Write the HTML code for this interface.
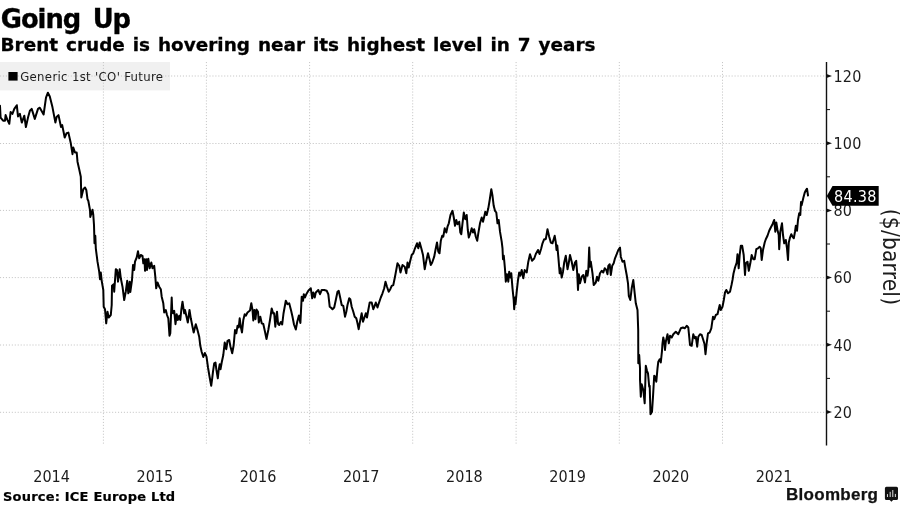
<!DOCTYPE html>
<html lang="en"><head><meta charset="utf-8"><title>Going Up</title>
<style>
html,body{margin:0;padding:0;background:#fff}
body{width:900px;height:506px;overflow:hidden;position:relative;font-family:"DejaVu Sans","Liberation Sans",sans-serif;color:#111}
svg{position:absolute;left:0;top:0;display:block}
.t{font-family:"DejaVu Sans","Liberation Sans",sans-serif;font-weight:bold;fill:#000}
.ax{font-family:"DejaVu Sans Condensed","DejaVu Sans","Liberation Sans",sans-serif;font-size:16px;letter-spacing:0.3px;fill:#1c1c1c}
.lg{font-family:"DejaVu Sans Condensed","DejaVu Sans","Liberation Sans",sans-serif;font-size:13px;letter-spacing:0.33px;fill:#1c1c1c}
.grid{stroke:#c6c6c6;stroke-width:1;stroke-dasharray:1.1 1.85;fill:none}
</style></head><body>
<svg width="900" height="506" viewBox="0 0 900 506">
<rect x="0" y="0" width="900" height="506" fill="#fff"/>
<text class="t" x="0.8" y="27.5" font-size="25.8" letter-spacing="-1.05" word-spacing="4.6" stroke="#000" stroke-width="0.35">Going Up</text>
<text class="t" x="0.5" y="51" font-size="18.4" letter-spacing="0.04" word-spacing="1.4" stroke="#000" stroke-width="0.3">Brent crude is hovering near its highest level in 7 years</text>
<rect x="0" y="62" width="170" height="28.4" fill="#f0f0f0"/>
<line class="grid" x1="103.4" y1="62" x2="103.4" y2="445"/>
<line class="grid" x1="206.4" y1="62" x2="206.4" y2="445"/>
<line class="grid" x1="309.6" y1="62" x2="309.6" y2="445"/>
<line class="grid" x1="412.7" y1="62" x2="412.7" y2="445"/>
<line class="grid" x1="516.1" y1="62" x2="516.1" y2="445"/>
<line class="grid" x1="619.3" y1="62" x2="619.3" y2="445"/>
<line class="grid" x1="722.5" y1="62" x2="722.5" y2="445"/>
<line class="grid" x1="0" y1="76.0" x2="826.5" y2="76.0"/>
<line class="grid" x1="0" y1="143.5" x2="826.5" y2="143.5"/>
<line class="grid" x1="0" y1="210.4" x2="826.5" y2="210.4"/>
<line class="grid" x1="0" y1="277.6" x2="826.5" y2="277.6"/>
<line class="grid" x1="0" y1="345.0" x2="826.5" y2="345.0"/>
<line class="grid" x1="0" y1="412.3" x2="826.5" y2="412.3"/>
<rect x="8.4" y="72" width="9.2" height="8.6" fill="#000"/>
<text class="lg" x="20.2" y="80.9">Generic 1st 'CO' Future</text>
<line x1="826.5" y1="62" x2="826.5" y2="445.5" stroke="#111" stroke-width="1.4"/>
<path d="M826.5,74.0 L832.0,76.0 L826.5,78.0 Z" fill="#111"/>
<text class="ax" x="833.4" y="81.8">120</text>
<path d="M826.5,141.2 L832.0,143.2 L826.5,145.2 Z" fill="#111"/>
<text class="ax" x="833.4" y="149.0">100</text>
<path d="M826.5,208.4 L832.0,210.4 L826.5,212.4 Z" fill="#111"/>
<text class="ax" x="833.4" y="216.2">80</text>
<path d="M826.5,275.6 L832.0,277.6 L826.5,279.6 Z" fill="#111"/>
<text class="ax" x="833.4" y="283.4">60</text>
<path d="M826.5,342.8 L832.0,344.8 L826.5,346.8 Z" fill="#111"/>
<text class="ax" x="833.4" y="350.6">40</text>
<path d="M826.5,410.0 L832.0,412.0 L826.5,414.0 Z" fill="#111"/>
<text class="ax" x="833.4" y="417.8">20</text>
<line x1="826.5" y1="109.6" x2="830.0" y2="109.6" stroke="#111" stroke-width="1"/>
<line x1="826.5" y1="176.8" x2="830.0" y2="176.8" stroke="#111" stroke-width="1"/>
<line x1="826.5" y1="244.0" x2="830.0" y2="244.0" stroke="#111" stroke-width="1"/>
<line x1="826.5" y1="311.2" x2="830.0" y2="311.2" stroke="#111" stroke-width="1"/>
<line x1="826.5" y1="378.4" x2="830.0" y2="378.4" stroke="#111" stroke-width="1"/>
<text class="ax" x="51.6" y="482" text-anchor="middle" style="letter-spacing:0">2014</text>
<text class="ax" x="154.8" y="482" text-anchor="middle" style="letter-spacing:0">2015</text>
<text class="ax" x="258.0" y="482" text-anchor="middle" style="letter-spacing:0">2016</text>
<text class="ax" x="361.2" y="482" text-anchor="middle" style="letter-spacing:0">2017</text>
<text class="ax" x="464.4" y="482" text-anchor="middle" style="letter-spacing:0">2018</text>
<text class="ax" x="567.6" y="482" text-anchor="middle" style="letter-spacing:0">2019</text>
<text class="ax" x="670.8" y="482" text-anchor="middle" style="letter-spacing:0">2020</text>
<text class="ax" x="774.0" y="482" text-anchor="middle" style="letter-spacing:0">2021</text>
<path d="M0.0,105.8 L0.6,117.6 L3.1,120.7 L5.0,120.7 L5.6,115.1 L7.5,120.1 L9.3,123.8 L10.6,112.0 L12.4,113.9 L14.3,108.9 L16.8,105.2 L18.0,116.4 L19.9,113.9 L21.8,122.6 L24.3,115.7 L25.9,127.0 L28.0,117.6 L29.9,110.8 L31.7,108.9 L34.8,118.9 L38.0,108.9 L39.8,107.7 L43.6,114.5 L46.0,97.7 L47.9,92.7 L49.8,96.5 L52.3,106.4 L55.4,122.6 L56.6,117.0 L58.5,115.1 L61.0,127.0 L62.2,125.1 L64.7,137.5 L66.6,133.2 L68.4,132.6 L70.8,143.3 L72.5,154.2 L73.3,147.5 L75.0,152.5 L76.7,152.5 L77.5,161.7 L79.2,169.2 L80.8,176.7 L81.3,197.5 L83.3,189.2 L85.0,187.5 L86.3,190.0 L87.5,199.2 L88.3,200.8 L90.0,210.0 L90.3,217.0 L92.5,209.7 L93.3,215.0 L94.0,225.0 L94.5,243.3 L95.3,235.8 L95.8,248.3 L97.5,261.7 L99.2,271.7 L100.0,279.2 L100.8,272.5 L101.7,280.8 L103.3,290.0 L103.7,306.7 L105.0,309.2 L106.2,323.3 L107.5,311.7 L108.7,317.5 L110.8,315.0 L111.7,305.0 L112.0,285.8 L113.7,284.2 L114.2,291.7 L115.8,269.2 L117.0,270.0 L118.0,281.7 L119.7,269.2 L120.8,278.3 L122.5,286.7 L124.2,300.0 L125.8,291.5 L127.2,280.8 L128.3,293.3 L129.7,281.7 L130.3,292.0 L132.0,280.0 L133.0,265.0 L134.2,270.0 L135.0,261.7 L136.7,257.5 L138.0,251.3 L139.2,258.3 L140.8,255.0 L142.5,255.8 L143.3,263.3 L144.5,259.2 L145.0,270.8 L146.3,259.2 L147.0,270.0 L148.3,258.7 L149.7,268.3 L151.3,262.5 L152.5,268.3 L154.2,265.8 L155.3,276.7 L156.2,288.3 L157.5,282.5 L159.2,286.7 L160.8,289.2 L161.7,296.7 L163.3,303.3 L164.2,312.5 L165.8,310.0 L167.0,315.0 L168.3,318.3 L169.5,335.8 L170.3,333.3 L171.7,297.5 L172.2,310.0 L173.0,313.3 L174.2,310.8 L175.5,324.2 L176.7,314.2 L177.8,320.0 L179.2,315.8 L180.3,320.0 L181.3,310.0 L182.5,301.7 L184.2,313.3 L185.0,310.0 L186.7,317.5 L187.8,322.5 L189.5,310.0 L190.8,318.3 L192.5,326.7 L193.7,332.5 L195.8,324.2 L197.5,330.0 L199.2,336.7 L200.3,345.8 L201.7,352.0 L203.3,357.0 L204.8,353.0 L206.5,356.7 L208.0,367.5 L209.7,377.5 L211.2,385.8 L212.2,378.3 L213.0,371.7 L214.2,363.3 L215.5,362.5 L216.3,369.2 L217.8,378.3 L218.7,370.0 L219.7,364.2 L220.5,369.2 L221.7,362.5 L223.3,355.0 L224.7,342.5 L226.3,349.2 L227.5,340.8 L229.2,340.0 L230.5,346.7 L232.2,353.3 L233.7,345.0 L235.0,330.0 L236.3,333.3 L237.5,325.8 L238.7,327.5 L239.7,318.3 L240.8,326.7 L242.0,332.5 L243.3,320.0 L244.7,314.2 L245.8,315.8 L247.5,312.5 L250.0,310.5 L251.3,303.3 L252.5,310.0 L253.3,320.5 L254.4,310.0 L255.5,319.2 L256.5,309.5 L258.0,311.7 L258.8,322.5 L260.3,316.7 L261.7,323.3 L263.3,324.0 L265.0,331.7 L266.5,339.0 L268.3,330.0 L270.0,320.0 L271.7,308.5 L273.2,313.5 L274.2,313.3 L275.3,326.7 L277.0,311.7 L278.1,324.0 L279.2,325.0 L280.8,322.0 L282.2,324.5 L283.5,313.5 L285.8,300.8 L287.5,304.2 L289.2,303.3 L291.2,311.0 L292.5,316.7 L294.0,324.5 L295.8,329.5 L297.2,322.0 L298.9,315.5 L300.4,323.0 L301.7,296.7 L303.0,300.8 L303.8,294.2 L305.0,297.5 L306.3,294.2 L308.3,290.8 L310.8,288.3 L312.2,298.3 L313.3,292.5 L314.7,297.5 L315.8,292.5 L318.3,290.0 L320.0,294.2 L321.7,290.0 L324.2,290.0 L326.7,290.8 L328.3,294.2 L329.7,306.7 L330.8,307.5 L332.5,309.2 L334.2,307.5 L335.8,300.0 L337.5,291.7 L338.7,290.8 L340.0,296.7 L341.7,305.0 L343.3,305.8 L345.0,316.7 L346.3,311.7 L347.5,305.0 L349.2,298.3 L350.3,299.2 L351.7,306.7 L353.3,311.7 L354.7,316.7 L356.3,318.3 L357.5,323.3 L358.7,329.2 L360.0,321.7 L361.7,313.3 L363.0,321.7 L364.7,316.7 L365.8,313.3 L367.0,317.5 L368.3,310.0 L369.7,302.5 L371.7,302.5 L373.3,309.2 L375.0,305.0 L375.8,302.5 L377.5,307.5 L378.8,303.3 L380.8,297.5 L382.5,293.3 L384.2,288.3 L385.5,281.7 L387.0,286.7 L388.7,291.7 L390.3,289.2 L391.7,285.8 L393.3,285.0 L395.0,276.7 L397.5,263.3 L399.2,265.8 L400.5,272.5 L402.5,265.0 L404.7,266.7 L406.3,273.3 L407.5,262.5 L408.7,267.5 L410.0,261.7 L411.7,255.0 L413.3,253.3 L415.0,248.3 L417.0,243.3 L418.3,248.3 L419.7,242.5 L421.3,248.3 L423.0,255.0 L424.7,269.2 L426.3,260.8 L428.0,253.3 L429.7,260.0 L430.8,265.0 L432.2,262.5 L434.2,256.7 L435.8,248.3 L437.0,242.5 L438.3,251.7 L439.5,253.3 L440.8,240.8 L442.2,235.8 L443.3,236.7 L444.7,228.3 L446.3,232.5 L447.5,226.7 L448.8,223.3 L450.5,215.0 L452.5,210.8 L453.8,217.5 L455.0,225.8 L456.3,220.0 L457.5,224.2 L459.2,221.7 L460.3,232.5 L461.3,234.2 L462.5,223.3 L463.8,212.5 L465.3,219.2 L466.7,215.0 L467.8,230.0 L468.8,237.5 L470.3,233.3 L471.7,228.3 L473.0,232.5 L474.2,229.2 L475.8,236.7 L477.2,240.8 L478.3,233.3 L480.0,223.3 L481.7,217.5 L483.0,221.7 L484.2,216.7 L485.3,211.7 L486.7,215.0 L488.3,208.3 L489.7,200.0 L491.3,189.2 L492.5,195.8 L493.7,205.8 L495.0,210.8 L496.3,212.5 L497.5,223.3 L498.7,220.0 L500.0,231.7 L501.7,241.7 L502.5,248.3 L503.0,259.2 L503.8,255.8 L505.0,269.2 L505.8,281.7 L507.0,274.2 L508.3,281.7 L509.2,271.7 L510.3,277.5 L511.3,273.3 L512.5,288.3 L513.7,300.0 L514.2,309.2 L515.0,297.5 L515.5,304.2 L516.7,291.7 L518.0,280.0 L519.2,272.5 L520.3,275.8 L521.7,270.0 L523.3,278.3 L524.7,270.0 L526.7,272.5 L528.3,261.7 L530.0,254.2 L532.0,260.8 L534.2,258.5 L535.8,254.0 L538.0,250.0 L539.5,254.0 L541.2,248.5 L542.5,243.3 L544.2,239.2 L545.8,239.2 L547.5,229.2 L549.2,236.7 L550.8,242.5 L552.5,243.3 L554.7,235.8 L555.8,242.5 L556.5,250.0 L557.3,245.5 L558.3,256.7 L559.7,273.3 L560.5,268.3 L561.7,277.5 L563.0,271.7 L564.2,262.5 L565.8,255.8 L567.5,269.2 L568.7,263.3 L570.0,255.0 L571.7,261.7 L573.3,270.0 L575.0,262.5 L576.2,260.8 L577.2,273.3 L578.0,290.0 L578.8,274.2 L580.0,283.3 L581.7,276.7 L583.3,275.0 L585.0,282.5 L586.3,270.8 L587.5,275.8 L588.3,270.0 L589.2,247.5 L590.0,266.7 L590.8,261.7 L592.5,273.3 L593.7,285.0 L595.8,282.5 L597.0,276.7 L598.3,280.8 L600.0,273.3 L601.7,270.8 L603.3,272.5 L604.7,268.3 L606.3,270.0 L607.5,274.2 L608.3,265.8 L609.7,264.2 L610.8,275.0 L612.2,265.8 L613.7,263.3 L615.0,258.3 L616.7,254.2 L618.3,250.0 L620.0,247.5 L620.8,256.7 L622.5,261.7 L624.2,260.8 L625.3,267.5 L626.7,275.0 L628.0,283.3 L628.8,295.8 L630.3,300.0 L631.7,288.3 L633.3,280.0 L634.7,293.3 L635.8,303.3 L637.5,310.0 L638.2,330.0 L638.3,363.3 L639.2,355.0 L640.0,368.3 L640.0,379.2 L640.8,396.7 L641.7,384.2 L643.3,390.0 L644.7,403.3 L645.8,365.8 L647.0,370.8 L648.0,373.3 L649.2,386.7 L649.7,385.8 L650.5,414.2 L652.0,411.7 L653.0,396.7 L654.2,375.8 L655.3,376.7 L656.3,381.7 L657.5,368.3 L658.3,361.7 L659.7,359.2 L660.8,362.5 L662.0,350.8 L662.5,343.3 L663.3,337.5 L664.2,341.7 L665.0,350.0 L665.8,341.7 L667.5,334.2 L668.8,343.3 L670.0,335.8 L671.7,337.5 L673.3,334.2 L675.8,331.7 L678.3,334.2 L680.8,328.3 L683.0,327.5 L684.7,328.3 L686.7,325.8 L688.3,327.5 L689.2,336.7 L690.0,345.0 L691.7,345.8 L693.3,334.2 L694.7,338.3 L695.8,336.7 L697.2,346.7 L698.3,336.7 L700.0,334.2 L701.7,335.0 L703.3,340.0 L704.5,344.0 L705.5,354.2 L706.7,343.0 L708.0,333.3 L709.7,332.5 L711.3,328.3 L713.0,316.7 L714.2,319.2 L715.8,315.0 L717.5,314.2 L719.7,305.0 L720.8,310.0 L722.5,306.7 L723.8,300.0 L725.0,292.5 L726.3,290.0 L728.0,293.3 L730.0,291.7 L731.5,285.0 L732.5,280.0 L733.5,273.5 L735.0,267.5 L736.7,262.5 L737.5,254.2 L738.7,268.3 L739.7,255.0 L740.8,245.8 L742.2,245.8 L743.7,255.0 L745.0,275.0 L745.8,263.3 L747.5,261.7 L748.8,270.8 L750.3,263.3 L751.7,255.0 L753.3,259.2 L754.7,259.2 L756.3,249.2 L758.0,248.3 L759.7,246.7 L760.8,248.3 L761.7,260.0 L763.0,250.0 L764.7,242.5 L765.8,239.2 L767.5,235.8 L769.2,230.8 L770.8,227.5 L772.5,224.2 L774.2,220.0 L775.3,231.7 L776.3,222.5 L777.5,230.0 L778.7,235.0 L779.2,249.2 L780.3,231.7 L782.0,223.3 L783.0,235.0 L784.2,243.3 L785.8,240.0 L787.0,248.3 L788.0,260.0 L788.8,242.5 L790.0,237.5 L791.3,234.2 L792.5,236.7 L793.8,238.3 L795.0,231.7 L795.8,225.8 L797.0,230.8 L798.0,220.0 L799.2,213.3 L800.3,215.0 L801.0,202.0 L801.6,205.3 L803.3,198.0 L804.7,192.7 L806.0,190.0 L807.0,188.7 L808.0,195.5" fill="none" stroke="#000" stroke-width="2" stroke-linejoin="round" stroke-linecap="round"/>
<path d="M826.8,195.9 L832.5,186.1 L878.7,186.1 L878.7,205.7 L832.5,205.7 Z" fill="#000"/>
<text class="ax" x="834" y="202.3" style="fill:#fff">84.38</text>
<text class="ax" transform="translate(882.9,208.7) rotate(90)" style="font-size:22.5px;letter-spacing:0.2px">($/barrel)</text>
<text class="t" x="3" y="500.5" font-size="13" letter-spacing="0.2" stroke="#000" stroke-width="0.2">Source: ICE Europe Ltd</text>
<text x="786" y="499.6" font-family="Liberation Sans,sans-serif" font-weight="bold" font-size="17" letter-spacing="0.28" fill="#111" stroke="#111" stroke-width="0.25">Bloomberg</text>
<path d="M886.4,486.7 h10.1 a1.5,1.5 0 0 1 1.5,1.5 v10.3 a1.5,1.5 0 0 1 -1.5,1.5 h-3.4 l-1.7,1.8 l-1.7,-1.8 h-3.3 a1.5,1.5 0 0 1 -1.5,-1.5 v-10.3 a1.5,1.5 0 0 1 1.5,-1.5 z" fill="#111"/>
<rect x="886.95" y="494.1" width="1.05" height="2.9" fill="#d4d4d4"/>
<rect x="889.65" y="491.8" width="1.05" height="5.2" fill="#d4d4d4"/>
<rect x="892.25" y="490" width="1.05" height="7.0" fill="#d4d4d4"/>
<rect x="894.85" y="493.9" width="1.05" height="3.1" fill="#d4d4d4"/>
</svg></body></html>
